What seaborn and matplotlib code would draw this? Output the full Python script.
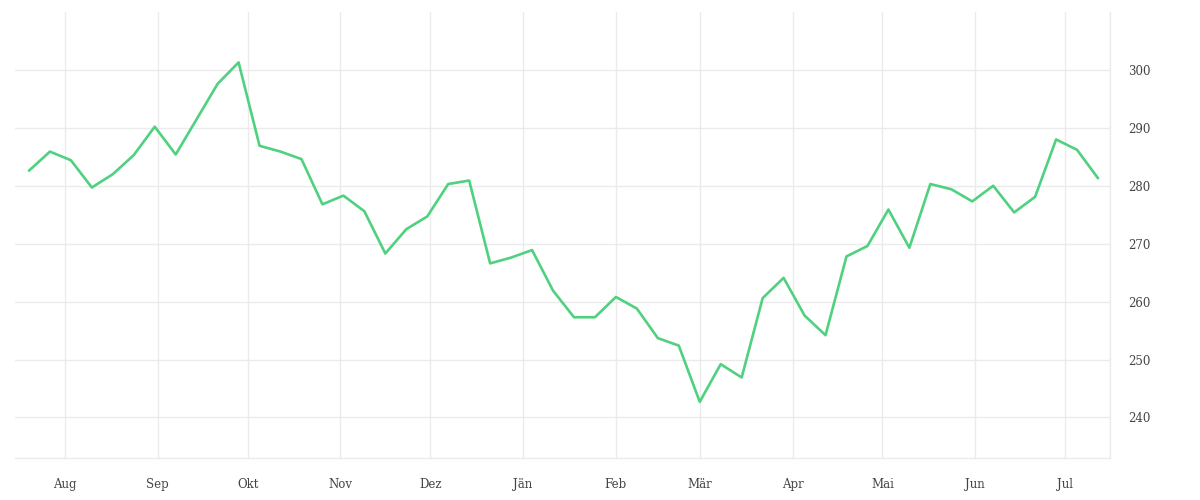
import matplotlib
matplotlib.use("Agg")
import matplotlib.pyplot as plt
import matplotlib.ticker as mticker
import matplotlib.dates as mdates
import seaborn as sns
import pandas as pd

# ── Daten (wöchentlich) ─────────────────────────────────────────────────────
START_DATE = "2022-07-20"
values = [282.6, 285.9, 284.4, 279.7, 282.0, 285.3, 290.2, 285.4, 291.5, 297.6,
          301.3, 286.9, 285.9, 284.6, 276.8, 278.3, 275.6, 268.3, 272.5, 274.7,
          280.3, 280.9, 266.6, 267.6, 268.9, 261.9, 257.3, 257.3, 260.8, 258.8,
          253.7, 252.4, 242.7, 249.2, 246.9, 260.6, 264.1, 257.6, 254.2, 267.8,
          269.6, 275.9, 269.3, 280.3, 279.4, 277.3, 280.0, 275.4, 278.1, 288.0,
          286.2, 281.3]
month_starts = ["2022-08-01", "2022-09-01", "2022-10-01", "2022-11-01",
                "2022-12-01", "2023-01-01", "2023-02-01", "2023-03-01",
                "2023-04-01", "2023-05-01", "2023-06-01", "2023-07-01"]
month_labels = ["Aug", "Sep", "Okt", "Nov", "Dez", "Jän", "Feb", "Mär",
                "Apr", "Mai", "Jun", "Jul"]
y_ticks = [240, 250, 260, 270, 280, 290, 300]

df = pd.DataFrame({
    "datum": pd.date_range(START_DATE, periods=len(values), freq="7D"),
    "wert": values,
})

# ── Stil ────────────────────────────────────────────────────────────────────
sns.set_style("white")
plt.rcParams["font.family"] = ["DejaVu Serif", "DejaVu Sans"]
GRID = "#ebebeb"
TEXT = "#444444"

fig = plt.figure(figsize=(12, 5), dpi=100)
ax = fig.add_axes([15 / 1200, 42 / 500, 1095 / 1200, 446 / 500])

sns.lineplot(data=df, x="datum", y="wert", ax=ax, color="#4fd17f",
             linewidth=1.9)

x_end = pd.Timestamp("2023-07-16")
ax.set_xlim(pd.Timestamp("2022-07-15 08:00"), x_end)
ax.set_ylim(233, 310)

tick_pos = [mdates.date2num(pd.Timestamp(d)) for d in month_starts]
ax.xaxis.set_major_locator(mticker.FixedLocator(tick_pos + [mdates.date2num(x_end)]))
ax.xaxis.set_major_formatter(mticker.FixedFormatter(month_labels + [""]))
ax.yaxis.set_major_locator(mticker.FixedLocator(y_ticks))
ax.yaxis.tick_right()

ax.grid(True, color=GRID, linewidth=1)
ax.tick_params(axis="x", length=7.5, width=1, color=GRID, pad=7,
               labelsize=8.5, labelcolor=TEXT)
ax.tick_params(axis="y", length=0, pad=13, labelsize=8.5, labelcolor=TEXT)
for lbl in ax.get_yticklabels():
    lbl.set_horizontalalignment("left")

for side in ["left", "top"]:
    ax.spines[side].set_visible(False)
for side in ["bottom", "right"]:
    ax.spines[side].set_color(GRID)
    ax.spines[side].set_linewidth(1)

ax.set_xlabel("")
ax.set_ylabel("")

plt.savefig("out.png", dpi=100)
plt.close()
